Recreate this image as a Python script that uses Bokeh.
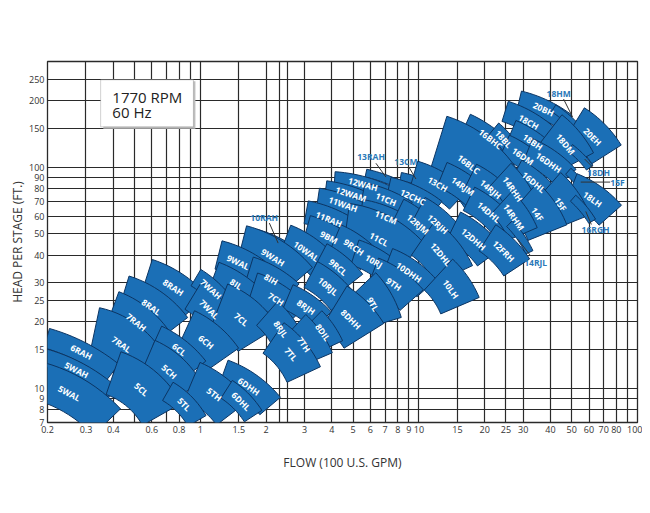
import numpy as np
from bokeh.plotting import figure
from bokeh.layouts import row
from bokeh.models import (ColumnDataSource, FixedTicker, CustomJSTickFormatter,
                          Label, BoxAnnotation, Spacer)
from bokeh.core.properties import value
from bokeh.embed import file_html
from bokeh.resources import INLINE

# ---------------- axis data ----------------
x_ticks = [0.2, 0.3, 0.4, 0.6, 0.8, 1, 1.5, 2, 3, 4, 5, 6, 7, 8, 9, 10,
           15, 20, 25, 30, 40, 50, 60, 70, 80, 100]
x_grid_extra = [0.5, 0.7, 0.9, 2.3, 2.5, 90]
y_ticks = [7, 8, 9, 10, 15, 20, 25, 30, 40, 50, 60, 70, 80, 90, 100, 150, 200, 250]

# ---------------- pump tiles (model, flow at centre [100 GPM], head at centre [ft]) ----
models = ["6RAH", "5WAH", "5WAL", "8RAH", "8RAL", "7RAH", "7RAL", "6CL", "5CH", "5CL",
          "5TL", "6CH", "5TH", "6DHH", "6DHL", "7WAH", "7WAL", "7CL", "8IL", "8IH",
          "9WAL", "9WAH", "10RAH", "7CH", "8RJH", "8RJL", "8DIL", "7TH", "7TL", "10WAL",
          "9BM", "9RCH", "9RCL", "10RJL", "8DHH", "9TL", "11RAH", "11WAH", "12WAM", "12WAH",
          "13RAH", "11CH", "11CM", "11CL", "10RJ", "9TH", "10DHH", "12CHC", "13CM", "12RJM",
          "12RJH", "12DHL", "10LH", "13CH", "12DHH", "12FRH", "14RJL", "14RJM", "14RJH", "14DHL",
          "16BLC", "16BHC", "14RHH", "14RHM", "14F", "16DHL", "16DHH", "16DM", "18BL", "18BH",
          "18CH", "20BH", "18HM", "18DM", "20EH", "18DH", "15F", "15F", "18LH", "16RGH"]
flow = [0.286, 0.272, 0.252, 0.753, 0.597, 0.510, 0.436, 0.802, 0.722, 0.538,
        0.845, 1.065, 1.16, 1.67, 1.54, 1.12, 1.10, 1.54, 1.46, 2.11,
        1.49, 2.15, 2.42, 2.22, 3.05, 2.34, 3.64, 2.98, 2.60, 3.05,
        3.88, 5.05, 4.27, 3.84, 4.89, 6.17, 3.88, 4.50, 4.89, 5.55,
        7.07, 7.07, 7.07, 6.57, 6.23, 7.69, 9.0, 9.39, 10.2, 9.9,
        12.2, 12.6, 14.0, 12.2, 17.8, 24.4, 29.2, 15.9, 21.3, 20.9,
        16.9, 21.3, 26.9, 27.2, 34.9, 33.5, 39.2, 29.9, 24.4, 33.2,
        31.8, 37.2, 46.9, 46.9, 62.3, 54.9, 53.8, 44.5, 62.3, 56.6]
head = [14.6, 12.1, 9.5, 28.6, 23.3, 19.9, 15.8, 15.0, 11.9, 9.9,
        8.47, 16.2, 9.4, 10.2, 8.73, 28.1, 22.8, 20.5, 29.6, 31.1,
        37.2, 39.1, 43.9, 25.3, 23.3, 18.5, 17.9, 15.8, 14.25, 41.7,
        48.2, 43.5, 35.3, 28.9, 20.5, 24.0, 58.2, 68.0, 75.5, 83.8,
        88.3, 71.6, 59.4, 47.2, 37.6, 29.6, 33.5, 73.2, 85.5, 55.2,
        55.2, 40.4, 28.1, 83.8, 47.2, 41.7, 48.2, 82.0, 79.5, 62.6,
        103, 134, 79.5, 59.4, 61.3, 85.5, 105, 112, 134, 130,
        160, 183, 168, 127, 137, 111, 85.5, 68.0, 71.6, 64.6]
# models whose name is written outside the tile, with a leader
callout = {"10RAH", "13RAH", "13CM", "14RJL", "18HM", "18DH", "16RGH"}
callout_idx = {76}  # the thin 15F sliver (second 15F entry is the labelled tile)

# tile shape: tilt (deg), span along curve, depth, curve radius (chart px units)
tilt = [-27, -27, -28, -33, -35, -38, -35, -38, -42, -40,
        -45, -40, -38, -35, -45, -42, -45, -40, -33, -30,
        -25, -32, -30, -33, -35, -55, -55, -55, -50, -35,
        -28, -35, -40, -40, -45, -60, -22, -20, -18, -15,
        -20, -22, -22, -28, -30, -35, -35, -25, -20, -40,
        -42, -50, -55, -30, -40, -45, -55, -35, -40, -40,
        -38, -38, -55, -55, -55, -40, -35, -35, -48, -35,
        -30, -25, -40, -50, -45, -45, -50, -55, -35, -50]
span = [75, 85, 95, 58, 62, 55, 60, 52, 52, 65,
        42, 48, 52, 58, 38, 38, 42, 52, 48, 48,
        42, 68, 62, 52, 42, 42, 32, 38, 48, 48,
        48, 42, 42, 42, 42, 42, 48, 52, 52, 58,
        42, 48, 52, 70, 42, 48, 48, 52, 42, 48,
        48, 48, 38, 52, 48, 42, 35, 48, 48, 48,
        72, 58, 38, 38, 42, 42, 48, 42, 28, 48,
        52, 52, 30, 42, 45, 28, 30, 42, 48, 30]
depth = [20, 17, 38, 32, 36, 36, 50, 21, 37, 45,
         21, 40, 40, 27, 21, 19, 31, 47, 23, 26,
         29, 37, 10, 31, 26, 32, 26, 42, 37, 31,
         26, 26, 26, 29, 47, 42, 23, 19, 15, 15,
         8, 19, 21, 50, 26, 31, 26, 23, 8, 26,
         29, 42, 42, 26, 31, 31, 8, 26, 26, 26,
         65, 21, 31, 31, 42, 23, 26, 23, 16, 21,
         21, 19, 8, 37, 35, 8, 8, 42, 30, 8]
radius = [190, 172, 146, 110, 100, 90, 75, 110, 80, 90,
          80, 90, 100, 110, 90, 100, 90, 80, 110, 110,
          110, 110, 120, 100, 100, 90, 90, 90, 90, 100,
          110, 100, 100, 100, 90, 90, 120, 130, 140, 150,
          150, 130, 120, 100, 100, 100, 100, 120, 130, 100,
          100, 90, 90, 110, 100, 100, 100, 110, 100, 100,
          100, 120, 90, 90, 90, 100, 110, 110, 100, 110,
          120, 130, 120, 100, 100, 100, 100, 90, 100, 100]

# callout labels: text position and leader line end on the tile
co_text = ["10RAH", "13RAH", "13CM", "14RJL", "18HM", "18DH", "15F", "16RGH"]
co_x = [1.96, 6.04, 8.72, 34.2, 43.6, 66.4, 81.0, 64.3]
co_y = [59.4, 112, 106, 37.2, 214, 94.9, 85.5, 52.4]
ld_x0 = [2.07, 6.36, 9.0, 32.5, 45.9, 62.3, 75.0, 61.5]
ld_y0 = [55.8, 104, 100, 39.6, 203, 100, 85.5, 55.0]
ld_x1 = [2.27, 7.07, 9.69, 28.3, 50.5, 57.3, 55.0, 58.0]
ld_y1 = [45.3, 90.1, 88.3, 47.2, 168, 108.7, 85.5, 63.0]

PXD = 220.0  # chart px per decade (used only to express tile sizes)


def tile_poly(q, h, t_deg, w, d, r, n=14):
    u0, v0 = np.log10(q), np.log10(h)
    a = np.radians(t_deg)
    R, W, T = r / PXD, w / PXD, d / PXD
    nx, ny = -np.sin(a), np.cos(a)
    cx, cy = u0 - R * nx, v0 - R * ny
    a0 = np.arctan2(ny, nx)
    dd = W / (2 * R)
    angs = np.linspace(a0 + dd, a0 - dd, n)
    ro, ri = R + T / 2, R - T / 2
    xs = np.concatenate([cx + ro * np.cos(angs), cx + ri * np.cos(angs[::-1])])
    ys = np.concatenate([cy + ro * np.sin(angs), cy + ri * np.sin(angs[::-1])])
    return list(10 ** xs), list(10 ** ys)


order = sorted(range(len(models)), key=lambda i: -head[i])
pxs, pys = [], []
for i in order:
    a, b = tile_poly(flow[i], head[i], tilt[i], span[i], depth[i], radius[i])
    pxs.append(a)
    pys.append(b)
tiles = ColumnDataSource(dict(xs=pxs, ys=pys))

lab_idx = [i for i in range(len(models)) if models[i] not in callout and i not in callout_idx]
labels = ColumnDataSource(dict(
    x=[flow[i] for i in lab_idx], y=[head[i] for i in lab_idx],
    t=[models[i] for i in lab_idx], a=[np.radians(tilt[i]) for i in lab_idx]))

p = figure(width=636, height=497, x_axis_type="log", y_axis_type="log",
           x_range=(0.2, 100), y_range=(7, 300), output_backend="svg",
           toolbar_location=None, min_border_left=30, min_border_right=5,
           min_border_top=61, min_border_bottom=75)
p.background_fill_color = "white"
p.outline_line_color = "#2a2a2a"
p.outline_line_width = 1.3

for ax in (p.xaxis[0], p.yaxis[0]):
    ax.major_tick_in = 0
    ax.major_tick_out = 0
    ax.minor_tick_in = 0
    ax.minor_tick_out = 0
    ax.axis_line_color = None
    ax.major_label_text_font = "Open Sans"
    ax.major_label_text_font_size = "9px"
    ax.major_label_text_color = "#333333"
    ax.axis_label_text_font = "Open Sans"
    ax.axis_label_text_font_size = "12px"
    ax.axis_label_text_font_style = "normal"
    ax.axis_label_text_color = "#333333"
    ax.formatter = CustomJSTickFormatter(code="return String(tick);")

p.xaxis.ticker = FixedTicker(ticks=x_ticks)
p.yaxis.ticker = FixedTicker(ticks=y_ticks)
p.xaxis.axis_label = "FLOW (100 U.S. GPM)"
p.yaxis.axis_label = "HEAD PER STAGE (FT.)"
p.xaxis.major_label_standoff = 3
p.yaxis.major_label_standoff = 3
p.xaxis.axis_label_standoff = 18
p.yaxis.axis_label_standoff = 0

p.xgrid.ticker = FixedTicker(ticks=sorted(x_ticks + x_grid_extra))
p.ygrid.ticker = FixedTicker(ticks=y_ticks)
for g in (p.xgrid[0], p.ygrid[0]):
    g.grid_line_color = "#2a2a2a"
    g.grid_line_width = 1.2
    g.grid_line_alpha = 1.0

# info box with a soft shadow
p.add_layout(BoxAnnotation(left=0.36, right=0.95, bottom=149, top=244,
                           fill_color="#bdbdbd", fill_alpha=1.0, line_color=None))
p.add_layout(BoxAnnotation(left=0.35, right=0.93, bottom=152, top=248,
                           fill_color="white", fill_alpha=1.0,
                           line_color="#666666", line_width=1))
p.add_layout(Label(x=0.396, y=208, text="1770 RPM", text_font="Open Sans",
                   text_font_size="15px", text_color="#222222", text_baseline="middle"))
p.add_layout(Label(x=0.396, y=177, text="60 Hz", text_font="Open Sans",
                   text_font_size="15px", text_color="#222222", text_baseline="middle"))

p.patches("xs", "ys", source=tiles, fill_color="#1b6fb6", line_color="#0c3563",
          line_width=1)
p.text("x", "y", text="t", angle="a", source=labels, text_color="white",
       text_font=value("Open Sans"), text_font_size="8.5px", text_font_style="bold",
       text_align="center", text_baseline="middle")

p.segment(ld_x0, ld_y0, ld_x1, ld_y1, line_color="#333333", line_width=1)
p.text(co_x, co_y, text=co_text, text_color="#2b79b8", text_font=value("Open Sans"),
       text_font_size="8.5px", text_font_style="bold", text_align="center",
       text_baseline="middle")

page = row(Spacer(width=6, height=497), p)
open("out.html", "w").write(file_html(page, INLINE))
